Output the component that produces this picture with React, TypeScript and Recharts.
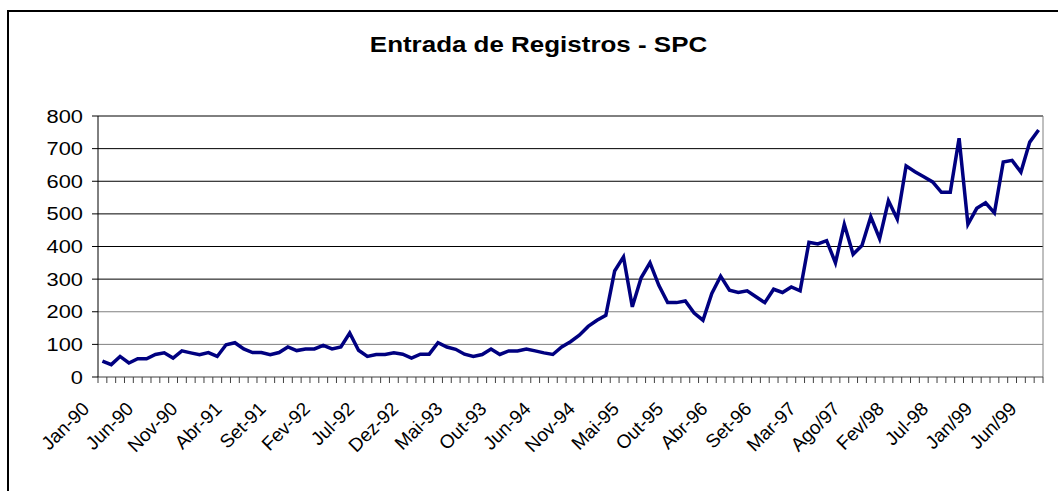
import React from 'react';
import { LineChart, Line, XAxis, YAxis, ReferenceLine } from 'recharts';

const months = [
  'Jan-90', 'Fev-90', 'Mar-90', 'Abr-90', 'Mai-90', 'Jun-90', 'Jul-90', 'Ago-90', 'Set-90', 'Out-90', 'Nov-90', 'Dez-90',
  'Jan-91', 'Fev-91', 'Mar-91', 'Abr-91', 'Mai-91', 'Jun-91', 'Jul-91', 'Ago-91', 'Set-91', 'Out-91', 'Nov-91', 'Dez-91',
  'Jan-92', 'Fev-92', 'Mar-92', 'Abr-92', 'Mai-92', 'Jun-92', 'Jul-92', 'Ago-92', 'Set-92', 'Out-92', 'Nov-92', 'Dez-92',
  'Jan-93', 'Fev-93', 'Mar-93', 'Abr-93', 'Mai-93', 'Jun-93', 'Jul-93', 'Ago-93', 'Set-93', 'Out-93', 'Nov-93', 'Dez-93',
  'Abr-94', 'Mai-94', 'Jun-94', 'Jul-94', 'Ago-94', 'Set-94', 'Out-94', 'Nov-94', 'Dez-94',
  'Jan-95', 'Fev-95', 'Mar-95', 'Mai-95', 'Jun-95', 'Jul-95', 'Ago-95', 'Set-95', 'Out-95', 'Nov-95', 'Dez-95',
  'Jan-96', 'Fev-96', 'Abr-96', 'Mai-96', 'Jun-96', 'Jul-96', 'Ago-96', 'Set-96', 'Out-96', 'Nov-96', 'Dez-96',
  'Jan-97', 'Mar-97', 'Abr-97', 'Mai-97', 'Jun-97', 'Jul-97', 'Ago/97', 'Set/97', 'Out/97', 'Nov/97', 'Dez/97',
  'Fev/98', 'Mar/98', 'Abr/98', 'Mai/98', 'Jun/98', 'Jul-98', 'Ago/98', 'Set/98', 'Out/98', 'Nov/98',
  'Jan/99', 'Fev/99', 'Mar/99', 'Abr/99', 'Mai/99', 'Jun/99', 'Jul/99',
];

const registros = [
  49, 38, 63, 43, 56, 56, 69, 74, 58, 80, 74, 68,
  75, 63, 99, 105, 86, 75, 75, 68, 75, 92, 81, 86,
  86, 97, 86, 92, 135, 82, 63, 69, 69, 74, 70, 58,
  70, 70, 105, 92, 85, 70, 63, 69, 86, 69, 80, 80,
  86, 80, 74, 69, 92, 108, 128, 155, 174,
  189, 325, 368, 215, 304, 350, 281, 228, 228, 233, 196,
  174, 256, 309, 266, 259, 264, 246, 228, 269, 259, 276,
  264, 413, 408, 418, 350, 468, 376, 403, 491, 424, 540,
  484, 647, 629, 614, 598, 566, 566, 732, 468, 517,
  534, 503, 659, 664, 628, 720, 757,
];

const yTicks = [0, 100, 200, 300, 400, 500, 600, 700, 800];
const gridLines = [100, 200, 300, 400, 500, 600, 700, 800];
const LABEL_EVERY = 5;

// each month sits in the middle of its slot; tick marks go on slot edges
const data = months.map((m, i) => ({ month: m, pos: i + 0.5, value: registros[i] }));
const slotEdges = Array.from({ length: months.length + 1 }, (_, i) => i);

const FONT = '"Liberation Sans", Arial, sans-serif';

const YTick = ({ x, y, payload }: any) => (
  <text
    transform={`translate(${x},${y}) scale(1.18,1)`}
    textAnchor="end"
    dy="0.355em"
    fontSize={18.5}
    fontFamily={FONT}
    fill="#000"
  >
    {payload.value}
  </text>
);

// label for slot v is drawn from its left edge tick, nudged half a slot right
const XTick = ({ x, y, payload }: any) => {
  const v = payload.value;
  if (v % LABEL_EVERY !== 0 || v >= months.length) return <g />;
  return (
    <text
      transform={`translate(${x - 7.6},${y + 27}) rotate(-45)`}
      textAnchor="end"
      fontSize={19}
      fontFamily={FONT}
      fill="#000"
    >
      {months[v]}
    </text>
  );
};

export default function App() {
  return (
    <div style={{ position: 'absolute', left: 0, top: 0, width: 1058, height: 491, overflow: 'hidden', background: '#fff' }}>
      <div style={{ position: 'absolute', left: 7, top: 10, width: 1100, height: 600, borderLeft: '2px solid #000', borderTop: '2px solid #000' }} />
      <svg width={1058} height={70} style={{ position: 'absolute', left: 0, top: 0 }}>
        <text
          transform="translate(538.5,52) scale(1.18,1)"
          textAnchor="middle"
          fontSize={22}
          fontWeight="bold"
          fontFamily={FONT}
          fill="#000"
        >
          Entrada de Registros - SPC
        </text>
      </svg>
      <div style={{ position: 'absolute', left: 0, top: 0 }}>
        <LineChart width={1058} height={491} data={data} margin={{ top: 116, right: 15, bottom: 54, left: 8 }}>
          <XAxis
            type="number"
            dataKey="pos"
            domain={[0, months.length]}
            ticks={slotEdges}
            interval={0}
            height={60}
            tickSize={6}
            tickMargin={0}
            stroke="#404040"
            tick={<XTick />}
            allowDataOverflow
          />
          <YAxis
            domain={[0, 800]}
            ticks={yTicks}
            width={90}
            tickSize={6}
            tickMargin={9}
            stroke="#000"
            tick={<YTick />}
          />
          {gridLines.map((v) => (
            <ReferenceLine key={v} y={v} stroke={v <= 200 ? '#808080' : '#000'} strokeWidth={1} />
          ))}
          <ReferenceLine x={months.length} stroke="#808080" strokeWidth={1} />
          <Line
            type="linear"
            dataKey="value"
            stroke="#000080"
            strokeWidth={3.5}
            dot={false}
            isAnimationActive={false}
          />
        </LineChart>
      </div>
    </div>
  );
}
